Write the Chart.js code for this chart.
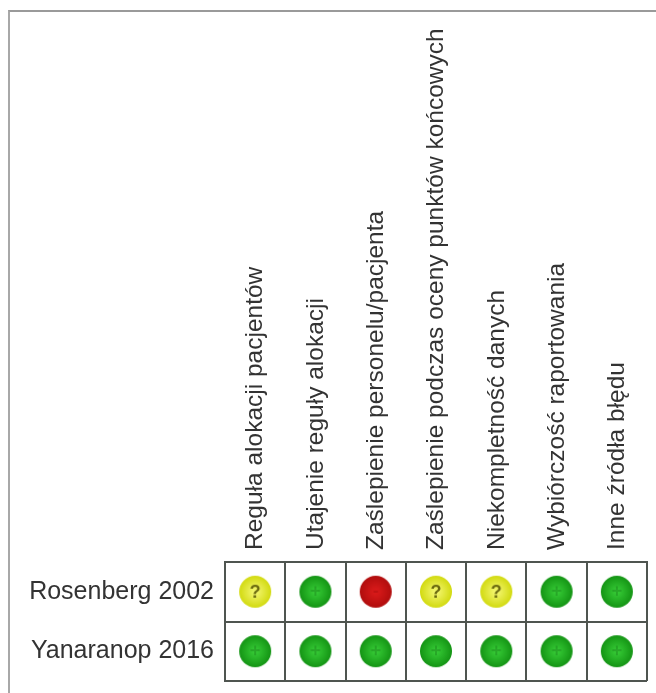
<!DOCTYPE html>
<html>
<head>
<meta charset="utf-8">
<script src="https://cdn.jsdelivr.net/npm/chart.js@4.4.0/dist/chart.umd.min.js"></script>
<style>
  html, body { margin: 0; padding: 0; background: #fff; }
  body { width: 656px; height: 693px; position: relative; overflow: hidden; }
  #frame { position: absolute; left: 8px; top: 10px; width: 660px; height: 700px;
           border-top: 2px solid #9a9a9a; border-left: 2px solid #a8a8a8; }
  #wrap { position: absolute; left: 0; top: 0; width: 656px; height: 693px; }
</style>
</head>
<body>
<div id="frame"></div>
<div id="wrap"><canvas id="rob"></canvas></div>
<script>
// domeny oceny ryzyka błędu
const domains = [
  'Reguła alokacji pacjentów',
  'Utajenie reguły alokacji',
  'Zaślepienie personelu/pacjenta',
  'Zaślepienie podczas oceny punktów końcowych',
  'Niekompletność danych',
  'Wybiórczość raportowania',
  'Inne źródła błędu'
];
const studies = ['Rosenberg 2002', 'Yanaranop 2016'];

// + niskie ryzyko, ? niejasne, - wysokie
const rosenberg2002 = ['?', '+', '-', '?', '?', '+', '+'];
const yanaranop2016 = ['+', '+', '+', '+', '+', '+', '+'];
const judgements = [rosenberg2002, yanaranop2016];

const kolory = {
  '+': ['#34c834', '#149414'],
  '?': ['#f2f56a', '#d2da10'],
  '-': ['#d81a1a', '#b00d0d']
};

function ikona(sym) {
  const c = document.createElement('canvas');
  c.width = 34; c.height = 34;
  const g = c.getContext('2d');
  const grad = g.createRadialGradient(17, 17, 2, 17, 17, 16);
  grad.addColorStop(0, kolory[sym][0]);
  grad.addColorStop(1, kolory[sym][1]);
  g.fillStyle = grad;
  g.beginPath();
  g.arc(17, 17, 16, 0, Math.PI * 2);
  g.fill();
  g.font = 'bold 18px "Liberation Sans", Arial';
  g.textAlign = 'center';
  g.textBaseline = 'middle';
  if (sym === '?') {
    g.fillStyle = '#6b6a10';
    g.fillText('?', 17, 18);
  } else {
    g.fillStyle = sym === '+' ? 'rgba(20,110,20,0.35)' : 'rgba(150,10,10,0.35)';
    g.fillText(sym, 17, 17);
  }
  return c;
}
const ikony = { '+': ikona('+'), '?': ikona('?'), '-': ikona('-') };

const punkty = [];
studies.forEach((s, i) => {
  domains.forEach((d, j) => {
    punkty.push({ x: d, y: s, v: judgements[i][j] });
  });
});

const siatka = '#4f5550';

new Chart(document.getElementById('rob'), {
  type: 'scatter',
  data: {
    datasets: [{
      data: punkty,
      pointStyle: ctx => ikony[ctx.raw.v],
      pointRadius: 16,
      pointHoverRadius: 16
    }]
  },
  options: {
    responsive: true,
    maintainAspectRatio: false,
    animation: false,
    events: [],
    layout: { autoPadding: false, padding: { left: 0, top: 0, right: 9, bottom: 12 } },
    plugins: { legend: { display: false }, tooltip: { enabled: false } },
    scales: {
      x: {
        type: 'category',
        labels: domains,
        position: 'top',
        offset: true,
        grid: { offset: true, color: siatka, lineWidth: 2, drawTicks: false },
        border: { color: siatka, width: 2 },
        ticks: {
          minRotation: 90, maxRotation: 90, autoSkip: false, padding: 12,
          labelOffset: 30,
          color: '#333', font: { family: '"Liberation Sans", Arial', size: 24.5 }
        },
        afterFit: s => { s.height = 562; s.paddingLeft = 0; s.paddingRight = 0; }
      },
      y: {
        type: 'category',
        labels: studies,
        offset: true,
        grid: { offset: true, color: siatka, lineWidth: 2, drawTicks: false },
        border: { color: siatka, width: 2 },
        ticks: {
          padding: 11, color: '#333',
          font: { family: '"Liberation Sans", Arial', size: 25 }
        },
        afterFit: s => { s.width = 225; s.paddingTop = 0; s.paddingBottom = 0; }
      }
    }
  }
});
</script>
</body>
</html>
